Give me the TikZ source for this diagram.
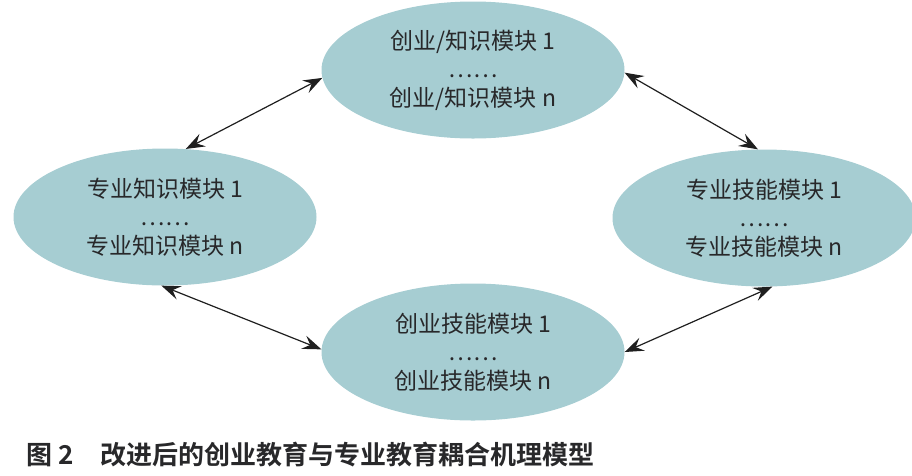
\documentclass[tikz,border=0pt]{standalone}
\usepackage{fontspec}
\setmainfont{Noto Sans CJK SC}
\newfontfamily\capfont{Noto Sans CJK SC}[BoldFont=* Bold]
\usetikzlibrary{shapes.geometric,arrows.meta}
\definecolor{modfill}{RGB}{166,205,210}
\definecolor{txt}{RGB}{40,40,42}
\tikzset{
  module/.style={ellipse, fill=modfill, draw=none, inner sep=0pt,
    minimum width=303pt, minimum height=137pt, text=txt, align=center,
    font=\fontsize{23}{28.5}\selectfont},
  link/.style={{Stealth[length=19pt,width=14pt,inset=7pt]}-{Stealth[length=19pt,width=14pt,inset=7pt]}, line width=1.2pt, draw=black!88}
}
\begin{document}
\begin{tikzpicture}[x=1pt,y=-1pt]
\useasboundingbox (0,0) rectangle (912,475);
\node[module] (top) at (473,70) {创业/知识模块 1\\……\\创业/知识模块 n};
\node[module] (left) at (165,217) {专业知识模块 1\\……\\专业知识模块 n};
\node[module] (right) at (764,218) {专业技能模块 1\\……\\专业技能模块 n};
\node[module] (bottom) at (473,352) {创业技能模块 1\\……\\创业技能模块 n};
\draw[link] (left.73) -- (top.183);
\draw[link] (top.-1) -- (right.95);
\draw[link] (left.-93) -- (bottom.179);
\draw[link] (bottom.0) -- (right.-83);
\node[anchor=west, inner sep=0pt, text=txt, font=\capfont\bfseries\fontsize{26}{30}\selectfont] (cap) at (26,455) {图 2\hspace{27pt}改进后的创业教育与专业教育耦合机理模型};
\end{tikzpicture}
\end{document}
